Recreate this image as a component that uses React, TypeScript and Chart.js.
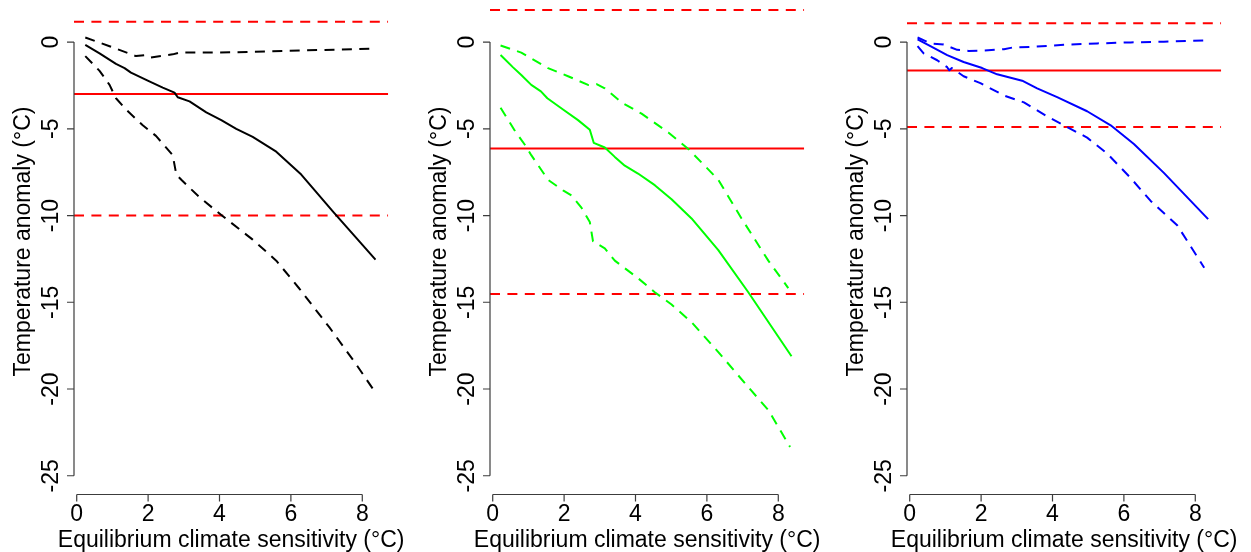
import React, { useEffect, useRef } from "react";
import { Chart, registerables } from "chart.js";

Chart.register(...registerables);

type Pt = [number, number];

// Axis ticks and plotting limits (R-style 4% padding around the data range)
const X_TICKS = [0, 2, 4, 6, 8];
const Y_TICKS = [0, -5, -10, -15, -20, -25];
const X_LIM: [number, number] = [-0.076, 8.726];
const Y_LIM: [number, number] = [-26.08, 3.08];

const X_TITLE = "Equilibrium climate sensitivity (°C)";
const Y_TITLE = "Temperature anomaly (°C)";

// Panel 1 (black): central estimate and bounds
const blackMid: Pt[] = [
  [0.24, -0.16], [0.64, -0.65], [1.1, -1.26], [1.34, -1.5], [1.52, -1.76],
  [1.99, -2.23], [2.41, -2.63], [2.74, -2.92], [2.83, -3.18], [3.16, -3.42],
  [3.63, -4.05], [4.05, -4.5], [4.47, -5.0], [4.93, -5.47], [5.59, -6.32],
  [6.29, -7.64], [7.18, -9.77], [8.37, -12.54],
];
const blackHigh: Pt[] = [
  [0.24, 0.26], [0.92, -0.24], [1.66, -0.81], [1.94, -0.75], [2.08, -0.89],
  [2.69, -0.71], [2.88, -0.61], [4.0, -0.61], [5.87, -0.51], [8.3, -0.38],
];
const blackLow: Pt[] = [
  [0.24, -0.81], [0.64, -1.66], [0.92, -2.47], [1.1, -3.24], [1.38, -3.89],
  [1.85, -4.8], [2.22, -5.41], [2.69, -6.52], [2.79, -7.64], [2.93, -7.94],
  [3.44, -8.95], [4.05, -9.97], [4.93, -11.39], [5.59, -12.6], [6.24, -14.22],
  [7.08, -16.45], [7.83, -18.58], [8.3, -20.0],
];

// Panel 2 (green)
const greenMid: Pt[] = [
  [0.22, -0.75], [0.57, -1.46], [0.8, -1.9], [1.08, -2.47], [1.35, -2.84],
  [1.53, -3.24], [1.97, -3.89], [2.39, -4.5], [2.72, -5.06], [2.83, -5.81],
  [3.14, -6.08], [3.42, -6.62], [3.7, -7.13], [4.07, -7.58], [4.54, -8.25],
  [5.01, -9.06], [5.57, -10.17], [6.32, -11.99], [7.16, -14.42], [8.37, -18.11],
];
const greenHigh: Pt[] = [
  [0.22, -0.2], [0.8, -0.61], [1.55, -1.5], [2.11, -1.97], [2.67, -2.47],
  [2.81, -2.47], [2.91, -2.43], [3.14, -2.67], [3.61, -3.48], [4.17, -4.13],
  [4.92, -5.21], [5.48, -6.16], [6.32, -7.94], [6.97, -10.17], [7.72, -12.6],
  [8.28, -14.18],
];
const greenLow: Pt[] = [
  [0.22, -3.79], [0.62, -5.11], [0.9, -5.92], [1.08, -6.52], [1.55, -7.94],
  [1.97, -8.55], [2.21, -8.85], [2.49, -9.56], [2.72, -10.37], [2.81, -11.49],
  [3.14, -11.89], [3.42, -12.6], [4.07, -13.61], [4.54, -14.42], [5.01, -15.13],
  [5.57, -16.15], [6.32, -17.87], [7.16, -19.89], [7.72, -21.21], [8.33, -23.34],
];

// Panel 3 (blue)
const blueMid: Pt[] = [
  [0.22, 0.16], [0.58, -0.24], [1.05, -0.75], [1.51, -1.15], [2.03, -1.5],
  [2.45, -1.86], [3.15, -2.23], [3.57, -2.67], [4.13, -3.18], [4.97, -3.99],
  [5.63, -4.8], [6.28, -5.88], [7.12, -7.54], [8.36, -10.21],
];
const blueHigh: Pt[] = [
  [0.22, 0.26], [0.58, -0.08], [0.95, -0.14], [1.33, -0.45], [1.65, -0.51],
  [2.07, -0.49], [2.64, -0.41], [2.87, -0.32], [3.38, -0.28], [4.32, -0.16],
  [5.25, -0.08], [6.19, -0.02], [7.12, 0.02], [8.29, 0.1],
];
const blueLow: Pt[] = [
  [0.22, -0.24], [0.39, -0.65], [0.77, -1.05], [1.05, -1.45], [1.11, -1.63],
  [1.18, -1.5], [1.51, -1.97], [1.98, -2.37], [2.64, -3.08], [3.2, -3.48],
  [3.85, -4.29], [4.32, -4.8], [4.97, -5.51], [5.53, -6.42], [6.19, -7.84],
  [6.75, -9.16], [7.5, -10.58], [8.25, -13.01],
];

// Reference levels per panel (red): upper bound, mean, lower bound
const refHigh = [1.17, 1.85, 1.08];
const refMean = [-3.0, -6.14, -1.64];
const refLow = [-10.0, -14.53, -4.9];

const seriesColors = ["#000000", "#00ff00", "#0000ff"];
const midSeries = [blackMid, greenMid, blueMid];
const highSeries = [blackHigh, greenHigh, blueHigh];
const lowSeries = [blackLow, greenLow, blueLow];

const RED = "#ff0000";
const DASH = [10, 7.4];
const FONT = '23px "Liberation Sans", Arial, Helvetica, sans-serif';
const AXIS_COLOR = "#3c3c3c";

// Canvas geometry for each panel
const PANEL_STEP = 416.3;
const CANVAS_W = 417;
const CANVAS_H = 564;
const CANVAS_TOP = -12;
const PAD = { left: 74, right: 28.8, top: 0.6, bottom: 57.5 };

const rAxes = {
  id: "rAxes",
  afterDraw(chart: any) {
    const { ctx, chartArea: a, scales } = chart;
    const xs = scales.x;
    const ys = scales.y;
    ctx.save();
    ctx.strokeStyle = AXIS_COLOR;
    ctx.lineWidth = 1.2;
    ctx.fillStyle = "#000";
    ctx.font = FONT;
    ctx.textAlign = "center";
    ctx.textBaseline = "alphabetic";

    // y axis
    const yTop = ys.getPixelForValue(Math.max(...Y_TICKS));
    const yBot = ys.getPixelForValue(Math.min(...Y_TICKS));
    const ax = a.left;
    ctx.beginPath();
    ctx.moveTo(ax, yTop);
    ctx.lineTo(ax, yBot);
    Y_TICKS.forEach((t) => {
      const py = ys.getPixelForValue(t);
      ctx.moveTo(ax, py);
      ctx.lineTo(ax - 7, py);
    });
    ctx.stroke();
    Y_TICKS.forEach((t) => {
      const py = ys.getPixelForValue(t);
      ctx.save();
      ctx.translate(ax - 15.6, py);
      ctx.rotate(-Math.PI / 2);
      ctx.fillText(String(t), 0, 0);
      ctx.restore();
    });

    // x axis
    const xl = xs.getPixelForValue(Math.min(...X_TICKS));
    const xr = xs.getPixelForValue(Math.max(...X_TICKS));
    const by = a.bottom;
    ctx.beginPath();
    ctx.moveTo(xl, by);
    ctx.lineTo(xr, by);
    X_TICKS.forEach((t) => {
      const px = xs.getPixelForValue(t);
      ctx.moveTo(px, by);
      ctx.lineTo(px, by + 7);
    });
    ctx.stroke();
    X_TICKS.forEach((t) => {
      ctx.fillText(String(t), xs.getPixelForValue(t), by + 26.3);
    });

    // axis titles
    ctx.fillText(X_TITLE, (a.left + a.right) / 2, by + 52.3);
    ctx.save();
    ctx.translate(a.left - 44.2, (a.top + a.bottom) / 2);
    ctx.rotate(-Math.PI / 2);
    ctx.fillText(Y_TITLE, 0, 0);
    ctx.restore();

    ctx.restore();
  },
};

function toXY(pts: Pt[]) {
  return pts.map(([x, y]) => ({ x, y }));
}

function hLine(v: number) {
  return [{ x: X_LIM[0], y: v }, { x: X_LIM[1], y: v }];
}

function Panel({ index }: { index: number }) {
  const ref = useRef<HTMLCanvasElement | null>(null);

  useEffect(() => {
    if (!ref.current) return;
    const color = seriesColors[index];
    const line = (data: any[], c: string, dashed: boolean) => ({
      data,
      borderColor: c,
      borderWidth: 2,
      borderDash: dashed ? DASH : [],
      borderJoinStyle: "round" as const,
      pointRadius: 0,
      tension: 0,
      fill: false,
    });
    const chart = new Chart(ref.current, {
      type: "line",
      data: {
        datasets: [
          line(toXY(midSeries[index]), color, false),
          line(toXY(highSeries[index]), color, true),
          line(toXY(lowSeries[index]), color, true),
          line(hLine(refMean[index]), RED, false),
          line(hLine(refHigh[index]), RED, true),
          line(hLine(refLow[index]), RED, true),
        ],
      },
      options: {
        animation: false,
        responsive: false,
        devicePixelRatio: 1,
        events: [],
        layout: { padding: PAD },
        plugins: {
          legend: { display: false },
          tooltip: { enabled: false },
          title: { display: false },
        },
        scales: {
          x: { type: "linear", min: X_LIM[0], max: X_LIM[1], display: false },
          y: { type: "linear", min: Y_LIM[0], max: Y_LIM[1], display: false },
        },
      },
      plugins: [rAxes],
    });
    return () => chart.destroy();
  }, [index]);

  return (
    <canvas
      ref={ref}
      width={CANVAS_W}
      height={CANVAS_H}
      style={{
        position: "absolute",
        left: index * PANEL_STEP,
        top: CANVAS_TOP,
        width: CANVAS_W,
        height: CANVAS_H,
      }}
    />
  );
}

export default function App() {
  return (
    <div
      style={{
        position: "absolute",
        left: 0,
        top: 0,
        width: 1251,
        height: 552,
        overflow: "hidden",
        background: "#fff",
      }}
    >
      {[0, 1, 2].map((i) => (
        <Panel key={i} index={i} />
      ))}
    </div>
  );
}
